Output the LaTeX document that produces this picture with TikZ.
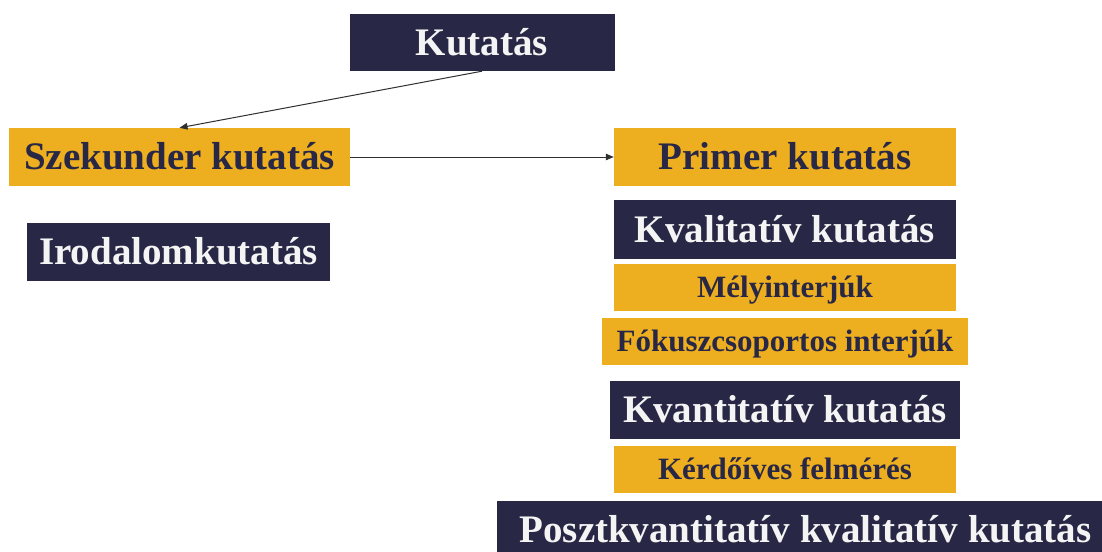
\documentclass[tikz,border=0pt]{standalone}
\usepackage{fontspec}
\setmainfont{Liberation Serif}
\usetikzlibrary{arrows.meta}
\definecolor{navy}{HTML}{282846}
\definecolor{gold}{HTML}{EDAE1F}
\definecolor{offwhite}{HTML}{F4F4F4}
\definecolor{linegray}{HTML}{303030}
\tikzset{
  navybox/.style={rectangle, fill=navy, text=offwhite, inner sep=0pt, text height=25.8pt, text depth=0pt,
    font=\bfseries\fontsize{39}{39}\selectfont, anchor=center},
  goldbig/.style={rectangle, fill=gold, text=navy, inner sep=0pt, text height=25.8pt, text depth=0pt,
    font=\bfseries\fontsize{39}{39}\selectfont, anchor=center},
  goldsmall/.style={rectangle, fill=gold, text=navy, inner sep=0pt, text height=20.5pt, text depth=0pt,
    font=\bfseries\fontsize{31}{31}\selectfont, anchor=center},
  conn/.style={draw=linegray, line width=1pt, -{Triangle[length=8pt,width=6.5pt]}}
}
\begin{document}
\begin{tikzpicture}[x=1pt,y=-1pt]
\clip (0,0) rectangle (1102,551);
\fill[white] (0,0) rectangle (1102,551);
\node[navybox, minimum width=265pt, minimum height=57pt] (kut) at (482,42.5) {Kutatás};
\node[goldbig, minimum width=341pt, minimum height=58pt] (sek) at (179.5,157) {Szekunder kutatás};
\node[goldbig, minimum width=342pt, minimum height=58pt] (pri) at (785,157) {Primer kutatás};
\node[navybox, minimum width=303pt, minimum height=58pt] (iro) at (178.5,252) {Irodalomkutatás};
\node[navybox, minimum width=342pt, minimum height=59pt] (kval) at (785,229.5) {Kvalitatív kutatás};
\node[goldsmall, minimum width=342pt, minimum height=47pt] (mely) at (785,287.5) {Mélyinterjúk};
\node[goldsmall, minimum width=366pt, minimum height=47pt] (fok) at (785,341.5) {Fókuszcsoportos interjúk};
\node[navybox, minimum width=350pt, minimum height=58pt] (kvan) at (785,410) {Kvantitatív kutatás};
\node[goldsmall, minimum width=342pt, minimum height=47pt] (ker) at (785,469.5) {Kérdőíves felmérés};
\node[navybox, minimum width=617pt, minimum height=58pt] (poszt) at (805.5,530) {Posztkvantitatív kvalitatív kutatás};
\draw[conn] (kut.south) -- (sek.north);
\draw[conn] (sek.east) -- (pri.west);
\end{tikzpicture}
\end{document}
